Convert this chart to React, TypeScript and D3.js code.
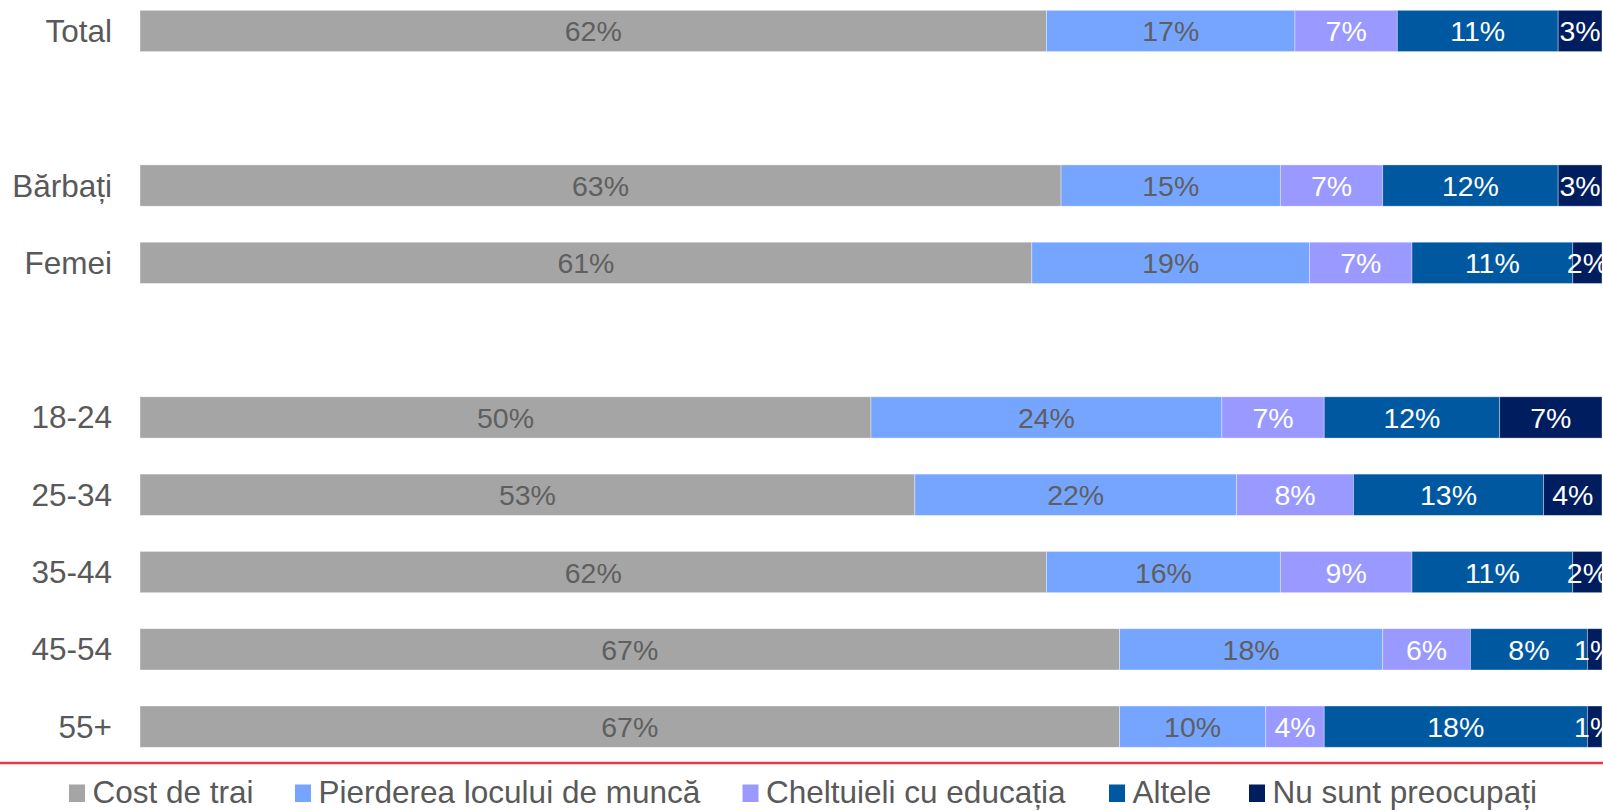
import React from "react";
import * as d3 from "d3";

const rows = ["Total", "", "Bărbați", "Femei", " ", "18-24", "25-34", "35-44", "45-54", "55+"];
const seriesNames = ["Cost de trai", "Pierderea locului de muncă", "Cheltuieli cu educația", "Altele", "Nu sunt preocupați"];
const costDeTrai = [62, null, 63, 61, null, 50, 53, 62, 67, 67];
const pierdereaLocului = [17, null, 15, 19, null, 24, 22, 16, 18, 10];
const cheltuieliEducatie = [7, null, 7, 7, null, 7, 8, 9, 6, 4];
const altele = [11, null, 12, 11, null, 12, 13, 11, 8, 18];
const nuSuntPreocupati = [3, null, 3, 2, null, 7, 4, 2, 1, 1];
const seriesValues = [costDeTrai, pierdereaLocului, cheltuieliEducatie, altele, nuSuntPreocupati];

const colors = ["#A5A5A5", "#75A5FF", "#9999FF", "#0059A0", "#001E5F"];
const labelColors = ["#5f5f5f", "#5f5f5f", "#ffffff", "#ffffff", "#ffffff"];
const legendX = [69, 295, 742.5, 1109, 1249];

const W = 1603;
const H = 811;
const FONT = "'Liberation Sans', Arial, sans-serif";

export default function App() {
  const x = d3.scaleLinear().domain([0, 100]).range([140, 1602]);
  const y = d3
    .scaleBand<string>()
    .domain(rows)
    .range([-7.7, 765.3])
    .paddingInner(0.466)
    .paddingOuter(0.233);

  const stack = rows.map((r, i) => {
    let acc = 0;
    return seriesValues.map((s, k) => {
      const v = s[i];
      const start = acc;
      acc += v ?? 0;
      return { row: r, k, v, start, end: acc };
    });
  });

  return (
    <svg
      width={W}
      height={H}
      style={{ position: "absolute", left: 0, top: 0, overflow: "hidden", background: "#fff" }}
      fontFamily={FONT}
    >
      <rect x={0} y={0} width={W} height={H} fill="#fff" />
      {stack.map((segs, i) =>
        segs.map((s) =>
          s.v == null ? null : (
            <g key={`${i}-${s.k}`}>
              <rect
                x={x(s.start)}
                y={y(s.row)!}
                width={x(s.end) - x(s.start)}
                height={y.bandwidth()}
                fill={colors[s.k]}
                stroke="#ffffff"
                strokeOpacity={0.45}
                strokeWidth={0.8}
              />
              <text
                x={(x(s.start) + x(s.end)) / 2}
                y={y(s.row)! + y.bandwidth() / 2 + 10.5}
                textAnchor="middle"
                fontSize={28.5}
                fill={labelColors[s.k]}
              >
                {s.v}%
              </text>
            </g>
          )
        )
      )}
      {rows.map((r) =>
        r.trim() === "" ? null : (
          <text
            key={r}
            x={112}
            y={y(r)! + y.bandwidth() / 2 + 11}
            textAnchor="end"
            fontSize={31.5}
            fill="#595959"
          >
            {r}
          </text>
        )
      )}
      <line x1={0} x2={W} y1={763} y2={763} stroke="#F0A0A8" strokeWidth={3} />
      <line x1={0} x2={W} y1={763} y2={763} stroke="#E8384A" strokeWidth={1.8} />
      {seriesNames.map((n, k) => (
        <g key={n}>
          <rect x={legendX[k]} y={784.5} width={16} height={17.5} fill={colors[k]} />
          <text x={legendX[k] + 23.5} y={803.3} fontSize={31.5} fill="#595959">
            {n}
          </text>
        </g>
      ))}
    </svg>
  );
}
